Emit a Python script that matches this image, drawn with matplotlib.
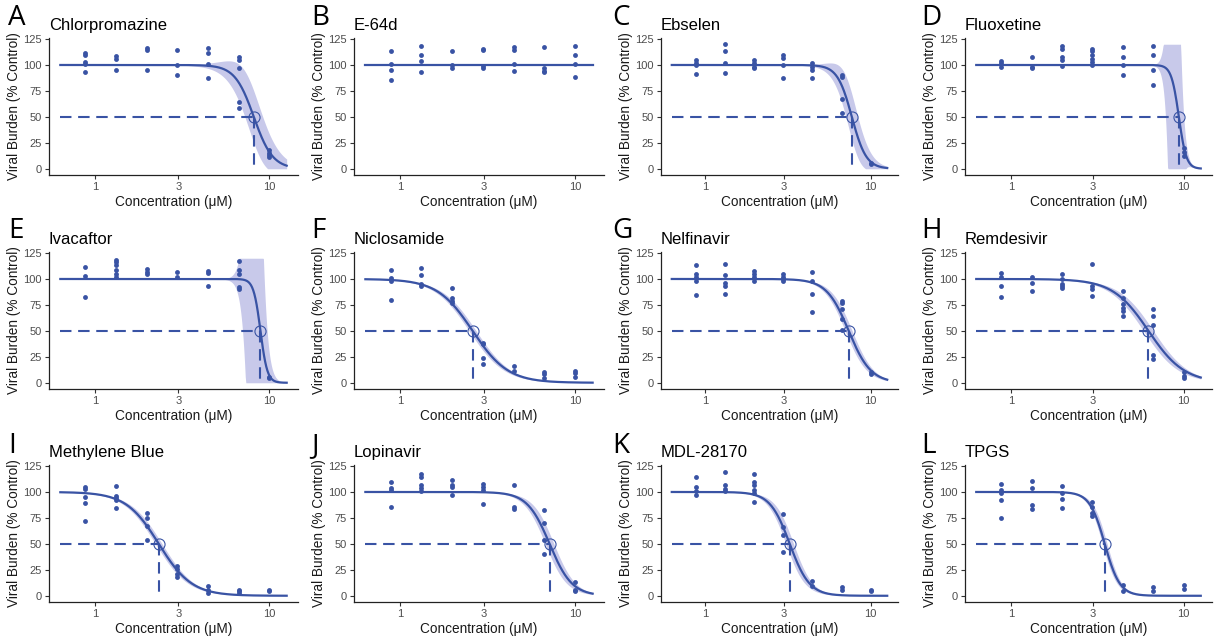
import numpy as np
import matplotlib.pyplot as plt

plt.rcParams['font.family'] = ['Liberation Sans', 'DejaVu Sans']

conc = [0.88, 1.32, 1.98, 2.96, 4.44, 6.67, 10.0]

drugs = ["Chlorpromazine", "E-64d", "Ebselen", "Fluoxetine",
         "Ivacaftor", "Niclosamide", "Nelfinavir", "Remdesivir",
         "Methylene Blue", "Lopinavir", "MDL-28170", "TPGS"]
letters = list("ABCDEFGHIJKL")

# replicate readings per concentration (% control)
chlorpromazine = [[112, 110, 103, 101, 93], [109, 106, 95], [116, 114, 95], [114, 100, 90],
                  [116, 112, 101, 87], [108, 105, 97, 64, 59], [18, 15, 13, 11]]
e64d = [[113, 101, 95, 86], [118, 110, 104, 93], [113, 100, 97], [115, 114, 99, 97],
        [117, 114, 101, 94], [117, 97, 94, 93], [118, 110, 101, 88]]
ebselen = [[105, 102, 100, 91], [120, 113, 102, 92], [105, 102, 98, 97], [110, 107, 100, 87],
           [102, 98, 95, 87], [90, 88, 67, 54], [6, 5]]
fluoxetine = [[104, 102, 98], [108, 98, 97], [118, 115, 108, 105, 99],
              [115, 113, 110, 106, 103, 100], [117, 108, 100, 90], [118, 110, 95, 81],
              [20, 16, 12]]
ivacaftor = [[112, 103, 83], [118, 116, 113, 109, 105, 102], [110, 107, 105], [107, 102],
             [108, 106, 93], [117, 109, 105, 92, 90], [6, 5]]
niclosamide = [[109, 101, 98, 80], [111, 104, 95, 93], [91, 82, 79, 77], [38, 37, 24, 18],
               [16, 11], [10, 8, 5], [11, 9, 6]]
nelfinavir = [[113, 105, 102, 98, 85], [114, 104, 96, 93, 86], [108, 105, 102, 98],
              [105, 102, 100, 98], [107, 98, 86, 68], [79, 77, 71, 61, 51], [10, 8]]
remdesivir = [[106, 102, 93, 83], [102, 96, 88], [105, 100, 95, 93, 91], [114, 93, 90, 84],
              [88, 82, 76, 72, 69, 64], [71, 64, 56, 27, 23], [10, 7, 5]]
methylene_blue = [[105, 103, 95, 89, 72], [106, 96, 94, 92, 85], [80, 75, 67, 54],
                  [29, 26, 21, 18], [9, 6, 3], [6, 5, 3], [6, 5]]
lopinavir = [[110, 104, 102, 86], [117, 114, 107, 104, 101], [112, 107, 105, 97],
             [108, 105, 102, 88], [107, 86, 84], [83, 70, 54, 40], [13, 6, 5]]
mdl28170 = [[114, 105, 101, 97], [119, 107, 103, 101], [117, 110, 107, 102, 99, 90],
            [79, 66, 59, 42], [14, 9], [8, 6], [6, 5]]
tpgs = [[108, 102, 99, 92, 75], [111, 104, 87, 84], [106, 99, 93, 85], [90, 86, 80, 77],
        [10, 5], [8, 5], [10, 7]]

readings = [chlorpromazine, e64d, ebselen, fluoxetine, ivacaftor, niclosamide,
            nelfinavir, remdesivir, methylene_blue, lopinavir, mdl28170, tpgs]

# fitted 4PL (top 100, bottom 0); None = no response
ic50 = [8.15, None, 7.7, 9.4, 8.9, 2.59, 7.37, 6.27, 2.32, 7.14, 3.25, 3.50]
hill = [8, None, 10, 20, 22, 4.3, 6.5, 4.2, 4.6, 6.8, 7.3, 10]
# confidence band: half-width at its centre, centre, steepness
band_w = [25, 0, 22, 300, 300, 5, 8, 7, 5, 10, 10, 8]
band_ic = [8.15, None, 7.7, 8.8, 8.2, 2.59, 7.37, 6.27, 2.32, 7.14, 3.25, 3.50]
band_hill = [6, None, 8, 28, 20, 4.3, 6.5, 4.2, 4.6, 6.8, 7.3, 10]

blue = '#3953A4'
band_col = '#C8C9EA'

W, H = 1214, 642
fig = plt.figure(figsize=(W / 100, H / 100), dpi=100)

col_l = [49, 354, 661, 965]
col_r = [298, 604, 898, 1212]
row_t = [38, 252, 465]
row_b = [175, 389, 602]
let_x = [8, 311, 612, 921]
let_y = [4, 217, 432]

xs = np.logspace(-0.2, 1.1, 400)


def logistic(x, ic, h):
    return 100.0 / (1.0 + (x / ic) ** h)


for i, name in enumerate(drugs):
    r, c = divmod(i, 4)
    ax = fig.add_axes([col_l[c] / W, 1 - row_b[r] / H,
                       (col_r[c] - col_l[c]) / W, (row_b[r] - row_t[r]) / H])
    ax.set_xscale('log')

    if ic50[i] is None:
        ax.plot(xs, np.full_like(xs, 100.0), color=blue, lw=1.6, zorder=3)
    else:
        fit = logistic(xs, ic50[i], hill[i])
        pb = 1.0 / (1.0 + (xs / band_ic[i]) ** band_hill[i])
        hw = band_w[i] * 4 * pb * (1 - pb)
        ax.fill_between(xs, np.clip(fit - hw, 0, 120), np.clip(fit + hw, 0, 120),
                        color=band_col, lw=0, zorder=1)
        dash = (0, (5.5, 3.2))
        ax.plot([xs[0], ic50[i]], [50, 50], color=blue, lw=1.5, ls=dash, zorder=2)
        ax.plot([ic50[i], ic50[i]], [50, 0], color=blue, lw=1.5, ls=dash, zorder=2)
        ax.plot(xs, fit, color=blue, lw=1.6, zorder=3)
        ax.plot([ic50[i]], [50], 'o', ms=8, mfc='none', mec=blue, mew=0.8, zorder=5)

    px = [conc[k] for k, vals in enumerate(readings[i]) for _ in vals]
    py = [v for vals in readings[i] for v in vals]
    ax.plot(px, py, 'o', color=blue, ms=3.5, mew=0, zorder=4)

    ax.set_xlim(10 ** -0.265, 10 ** 1.165)
    ax.set_ylim(-6, 126)
    ax.set_xticks([1, 3, 10])
    ax.set_xticklabels(['1', '3', '10'])
    ax.xaxis.set_minor_locator(plt.NullLocator())
    ax.set_yticks([0, 25, 50, 75, 100, 125])
    for s in ['top', 'right']:
        ax.spines[s].set_visible(False)
    for s in ['left', 'bottom']:
        ax.spines[s].set_color('#222222')
        ax.spines[s].set_linewidth(0.9)
    ax.tick_params(length=3, width=0.8, color='#333333', labelcolor='#4D4D4D',
                   labelsize=8, pad=2)
    ax.set_xlabel('Concentration (\u03bcM)', fontsize=9.8, color='#1a1a1a', labelpad=2)
    ax.set_ylabel('Viral Burden (% Control)', fontsize=9.8, color='#1a1a1a', labelpad=2)
    ax.set_title(name, loc='left', fontsize=12, pad=6)

    fig.text(let_x[c] / W, 1 - let_y[r] / H, letters[i], fontsize=20,
             family=['Open Sans', 'DejaVu Sans'], va='top', ha='left')

fig.savefig('out.png', dpi=100)
